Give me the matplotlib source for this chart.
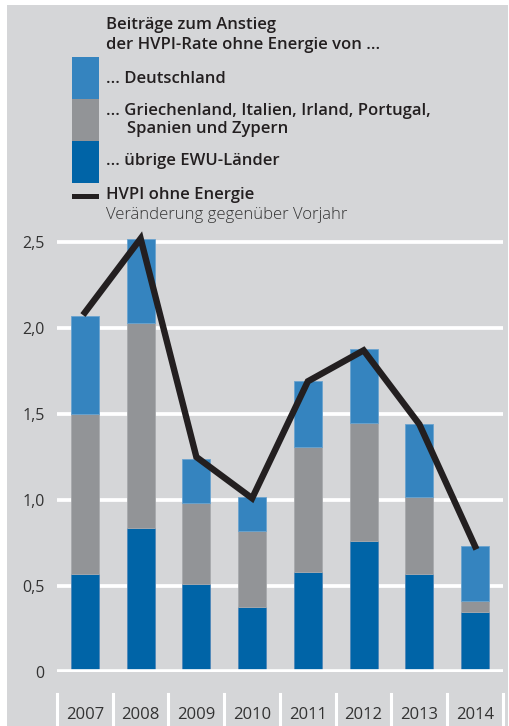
import matplotlib.pyplot as plt
import matplotlib.patches as mpatches
import matplotlib.transforms as mtransforms

years = ['2007', '2008', '2009', '2010', '2011', '2012', '2013', '2014']
uebrige = [0.57, 0.84, 0.51, 0.38, 0.58, 0.76, 0.57, 0.35]
krisen = [0.93, 1.19, 0.47, 0.44, 0.73, 0.69, 0.45, 0.06]
deutschland = [0.57, 0.49, 0.26, 0.20, 0.38, 0.43, 0.42, 0.32]
hvpi = [2.09, 2.52, 1.25, 1.01, 1.69, 1.87, 1.44, 0.73]
yticks = [0, 0.5, 1.0, 1.5, 2.0, 2.5]
ylabels = ['0', '0,5', '1,0', '1,5', '2,0', '2,5']

c_de = '#3584bf'
c_grey = '#929497'
c_dark = '#0064a7'
c_line = '#231f20'
bg = '#d5d6d8'
txt = '#231f20'

plt.rcParams['font.family'] = ['Open Sans', 'DejaVu Sans']

fig = plt.figure(figsize=(5.1, 7.26), dpi=100)
fig.patches.append(mpatches.Rectangle((7/510, 0), 501/510, 721/726, transform=fig.transFigure,
                                      facecolor=bg, edgecolor='none', zorder=-1))

ax = fig.add_axes([57/510, 54/726, 446/510, 447.2/726])
ax.set_facecolor('none')
x = list(range(len(years)))

bottom2 = [a + b for a, b in zip(uebrige, krisen)]
ax.bar(x, uebrige, width=0.5, color=c_dark, edgecolor='#4f87b8', linewidth=0.6, zorder=3)
ax.bar(x, krisen, bottom=uebrige, width=0.5, color=c_grey, edgecolor='#a8aaad', linewidth=0.6, zorder=3)
ax.bar(x, deutschland, bottom=bottom2, width=0.5, color=c_de, edgecolor='#6aa3cf', linewidth=0.6, zorder=3)

for yv in yticks[1:]:
    ax.axhline(yv, color='white', lw=2.7, zorder=1)
ax.axhline(0, color='white', lw=4.8, zorder=4)

ax.plot(x, hvpi, color=c_line, lw=4.6, solid_joinstyle='miter', zorder=5, clip_on=False)

ax.set_xlim(-0.5, 7.5)
ax.set_ylim(0, 2.6)
ax.set_yticks(yticks)
ax.set_yticklabels(ylabels)
ax.set_xticks(x)
ax.set_xticklabels(years)
ax.tick_params(axis='y', length=0, pad=9, labelsize=11.5, labelcolor='#333333')
ax.tick_params(axis='x', length=0, pad=25, labelsize=12, labelcolor='#333333')
for s in ax.spines.values():
    s.set_visible(False)

# year separators below the axis
trans = mtransforms.blended_transform_factory(ax.transData, ax.transAxes)
for i in range(len(years) + 1):
    ax.plot([i - 0.5, i - 0.5], [-22/447.2, -75/447.2], color='white', lw=2.2,
            transform=trans, clip_on=False, zorder=2)

# legend
def fy(p):
    return 1 - p / 726

fs = 12
fw = 'semibold'
fig.text(106/510, fy(25), 'Beiträge zum Anstieg', fontsize=fs, fontweight=fw, color=txt, va='center')
fig.text(106/510, fy(45), 'der HVPI-Rate ohne Energie von ...', fontsize=fs, fontweight=fw, color=txt, va='center')
for y0, y1, col in [(57, 99, c_de), (99, 141, c_grey), (141, 183, c_dark)]:
    fig.patches.append(mpatches.Rectangle((72/510, fy(y1)), 27/510, (y1 - y0)/726,
                                          transform=fig.transFigure, facecolor=col, edgecolor='none'))
fig.text(106/510, fy(79), '... Deutschland', fontsize=fs, fontweight=fw, color=txt, va='center')
fig.text(106/510, fy(111), '... Griechenland, Italien, Irland, Portugal,', fontsize=fs, fontweight=fw, color=txt, va='center')
fig.text(127/510, fy(129), 'Spanien und Zypern', fontsize=fs, fontweight=fw, color=txt, va='center')
fig.text(106/510, fy(161), '... übrige EWU-Länder', fontsize=fs, fontweight=fw, color=txt, va='center')
fig.patches.append(mpatches.Rectangle((72/510, fy(198.5)), 27/510, 5/726,
                                      transform=fig.transFigure, facecolor=c_line, edgecolor='none'))
fig.text(106/510, fy(195), 'HVPI ohne Energie', fontsize=fs, fontweight=fw, color=txt, va='center')
fig.text(106/510, fy(215), 'Veränderung gegenüber Vorjahr', fontsize=fs, fontweight='light', color='#333333', va='center')

fig.savefig('out.png', dpi=100, facecolor='white')
